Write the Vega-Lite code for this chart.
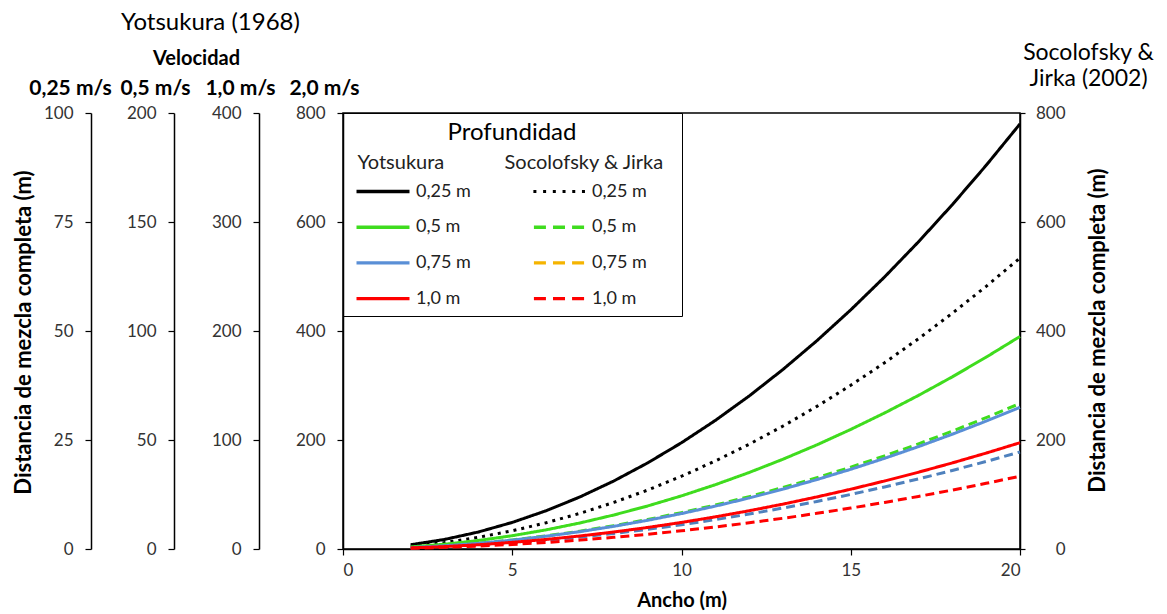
{
  "$schema": "https://vega.github.io/schema/vega-lite/v6.json",
  "autosize": {"type": "none"},
  "width": 677,
  "height": 436,
  "padding": {"left": 343, "top": 113, "right": 147, "bottom": 65},
  "background": "white",
  "config": {
    "view": {"stroke": "#000", "strokeWidth": 1.5},
    "font": "Lato",
    "axis": {"grid": false, "labelFont": "Lato", "labelFontSize": 17, "labelColor": "#333", "titleFont": "Lato", "titleColor": "#000", "domainColor": "#000", "domainWidth": 1.5, "tickColor": "#000", "tickWidth": 1.2},
    "legend": {"labelFont": "Lato", "titleFont": "Lato"}
  },
  "data": {"values": [
    {"W": 2, "Y 0,25": 7.8, "Y 0,5": 3.9, "Y 0,75": 2.6, "Y 1,0": 1.95, "S 0,25": 5.34, "S 0,5": 2.67, "S 0,75": 1.78, "S 1,0": 1.34},
    {"W": 3, "Y 0,25": 17.55, "Y 0,5": 8.78, "Y 0,75": 5.85, "Y 1,0": 4.39, "S 0,25": 12.02, "S 0,5": 6.01, "S 0,75": 4.01, "S 1,0": 3.0},
    {"W": 4, "Y 0,25": 31.2, "Y 0,5": 15.6, "Y 0,75": 10.4, "Y 1,0": 7.8, "S 0,25": 21.36, "S 0,5": 10.68, "S 0,75": 7.12, "S 1,0": 5.34},
    {"W": 5, "Y 0,25": 48.75, "Y 0,5": 24.38, "Y 0,75": 16.25, "Y 1,0": 12.19, "S 0,25": 33.38, "S 0,5": 16.69, "S 0,75": 11.13, "S 1,0": 8.34},
    {"W": 6, "Y 0,25": 70.2, "Y 0,5": 35.1, "Y 0,75": 23.4, "Y 1,0": 17.55, "S 0,25": 48.06, "S 0,5": 24.03, "S 0,75": 16.02, "S 1,0": 12.02},
    {"W": 7, "Y 0,25": 95.55, "Y 0,5": 47.78, "Y 0,75": 31.85, "Y 1,0": 23.89, "S 0,25": 65.42, "S 0,5": 32.71, "S 0,75": 21.81, "S 1,0": 16.35},
    {"W": 8, "Y 0,25": 124.8, "Y 0,5": 62.4, "Y 0,75": 41.6, "Y 1,0": 31.2, "S 0,25": 85.44, "S 0,5": 42.72, "S 0,75": 28.48, "S 1,0": 21.36},
    {"W": 9, "Y 0,25": 157.95, "Y 0,5": 78.98, "Y 0,75": 52.65, "Y 1,0": 39.49, "S 0,25": 108.14, "S 0,5": 54.07, "S 0,75": 36.05, "S 1,0": 27.03},
    {"W": 10, "Y 0,25": 195, "Y 0,5": 97.5, "Y 0,75": 65, "Y 1,0": 48.75, "S 0,25": 133.5, "S 0,5": 66.75, "S 0,75": 44.5, "S 1,0": 33.38},
    {"W": 11, "Y 0,25": 235.95, "Y 0,5": 117.98, "Y 0,75": 78.65, "Y 1,0": 58.99, "S 0,25": 161.54, "S 0,5": 80.77, "S 0,75": 53.85, "S 1,0": 40.38},
    {"W": 12, "Y 0,25": 280.8, "Y 0,5": 140.4, "Y 0,75": 93.6, "Y 1,0": 70.2, "S 0,25": 192.24, "S 0,5": 96.12, "S 0,75": 64.08, "S 1,0": 48.06},
    {"W": 13, "Y 0,25": 329.55, "Y 0,5": 164.78, "Y 0,75": 109.85, "Y 1,0": 82.39, "S 0,25": 225.62, "S 0,5": 112.81, "S 0,75": 75.21, "S 1,0": 56.4},
    {"W": 14, "Y 0,25": 382.2, "Y 0,5": 191.1, "Y 0,75": 127.4, "Y 1,0": 95.55, "S 0,25": 261.66, "S 0,5": 130.83, "S 0,75": 87.22, "S 1,0": 65.42},
    {"W": 15, "Y 0,25": 438.75, "Y 0,5": 219.38, "Y 0,75": 146.25, "Y 1,0": 109.69, "S 0,25": 300.38, "S 0,5": 150.19, "S 0,75": 100.13, "S 1,0": 75.09},
    {"W": 16, "Y 0,25": 499.2, "Y 0,5": 249.6, "Y 0,75": 166.4, "Y 1,0": 124.8, "S 0,25": 341.76, "S 0,5": 170.88, "S 0,75": 113.92, "S 1,0": 85.44},
    {"W": 17, "Y 0,25": 563.55, "Y 0,5": 281.78, "Y 0,75": 187.85, "Y 1,0": 140.89, "S 0,25": 385.82, "S 0,5": 192.91, "S 0,75": 128.61, "S 1,0": 96.45},
    {"W": 18, "Y 0,25": 631.8, "Y 0,5": 315.9, "Y 0,75": 210.6, "Y 1,0": 157.95, "S 0,25": 432.54, "S 0,5": 216.27, "S 0,75": 144.18, "S 1,0": 108.14},
    {"W": 19, "Y 0,25": 703.95, "Y 0,5": 351.98, "Y 0,75": 234.65, "Y 1,0": 175.99, "S 0,25": 481.94, "S 0,5": 240.97, "S 0,75": 160.65, "S 1,0": 120.48},
    {"W": 20, "Y 0,25": 780, "Y 0,5": 390, "Y 0,75": 260, "Y 1,0": 195, "S 0,25": 534, "S 0,5": 267, "S 0,75": 178, "S 1,0": 133.5}
  ]},
  "resolve": {"scale": {"y": "independent"}},
  "layer": [
    {
      "transform": [{"fold": ["Y 0,25", "S 0,25", "Y 0,5", "S 0,5", "Y 0,75", "S 0,75", "Y 1,0", "S 1,0"], "as": ["serie", "L"]}],
      "mark": {"type": "line", "strokeWidth": 3, "strokeCap": "butt"},
      "encoding": {
        "x": {"field": "W", "type": "quantitative", "scale": {"domain": [0, 20], "nice": false},
          "axis": {"values": [0, 5, 10, 15, 20], "tickSize": 6, "labelPadding": 7, "title": "Ancho (m)", "titleFontSize": 20, "titleFontWeight": "bold", "titleBaseline": "middle", "titleY": 51, "titleX": 338.5}},
        "y": {"field": "L", "type": "quantitative", "scale": {"domain": [0, 800], "nice": false},
          "axis": {"orient": "left", "values": [0, 200, 400, 600, 800], "tickSize": 6, "labelPadding": 12, "title": "2,0 m/s", "titleAngle": 0, "titleX": -19, "titleY": -25, "titleAlign": "center", "titleBaseline": "middle", "titleFontWeight": "bold", "titleFontSize": 21}},
        "color": {"field": "serie", "type": "nominal",
          "scale": {"domain": ["Y 0,25", "Y 0,5", "Y 0,75", "Y 1,0", "S 0,25", "S 0,5", "S 0,75", "S 1,0"],
                    "range": ["#000000", "#3fdc1e", "#5a8fd6", "#ff0000", "#000000", "#3fdc1e", "#4f81bd", "#ff0000"]},
          "legend": {
            "orient": "none", "legendX": 0, "legendY": 0,
            "title": "Profundidad", "titleFontSize": 24, "titleFontWeight": "normal", "titleAnchor": "middle", "titleColor": "#000", "titlePadding": 37.5,
            "columns": 2, "columnPadding": 56, "rowPadding": 17.7,
            "symbolType": "M-3,0H3", "symbolSize": 312, "symbolStrokeWidth": 3, "symbolOffset": 23, "labelOffset": 24,
            "labelFontSize": 18, "labelColor": "#222",
            "labelExpr": "slice(datum.value, 2) + ' m'",
            "padding": 8, "strokeColor": "#000", "fillColor": null,
            "encode": {"symbols": {"update": {
              "fill": {"signal": "datum.value == 'S 0,75' ? '#f5b400' : scale('color', datum.value)"},
              "fillOpacity": {"value": 1},
              "strokeWidth": {"value": 0},
              "strokeOpacity": {"value": 0},
              "shape": {"signal": "substring(datum.value, 0, 1) == 'Y' ? 'M-3,-0.19H3V0.19H-3Z' : (datum.value == 'S 0,25' ? 'M-2.9,-0.17H-2.56V0.17H-2.9Z M-1.8,-0.17H-1.46V0.17H-1.8Z M-0.7,-0.17H-0.36V0.17H-0.7Z M0.4,-0.17H0.74V0.17H0.4Z M1.5,-0.17H1.84V0.17H1.5Z M2.6,-0.17H2.94V0.17H2.6Z M13,0' : 'M-2.84,-0.19H-1.48V0.19H-2.84Z M-0.68,-0.19H0.68V0.19H-0.68Z M1.48,-0.19H2.84V0.19H1.48Z M13,0')"}
            }}}
          }},
        "strokeDash": {"field": "serie", "type": "nominal",
          "scale": {"domain": ["Y 0,25", "Y 0,5", "Y 0,75", "Y 1,0", "S 0,25", "S 0,5", "S 0,75", "S 1,0"],
                    "range": [[1, 0], [1, 0], [1, 0], [1, 0], [3, 5], [9, 5], [9, 5], [9, 5]]}},
        "order": {"field": "W", "type": "quantitative"}
      }
    },
    {
      "mark": {"type": "rule", "opacity": 0},
      "encoding": {"y": {"datum": 0, "type": "quantitative", "scale": {"domain": [0, 400], "nice": false},
        "axis": {"orient": "left", "offset": 84, "values": [0, 100, 200, 300, 400], "tickSize": 6, "labelPadding": 12, "title": "1,0 m/s", "titleAngle": 0, "titleX": -19, "titleY": -25, "titleAlign": "center", "titleBaseline": "middle", "titleFontWeight": "bold", "titleFontSize": 21}}}
    },
    {
      "mark": {"type": "rule", "opacity": 0},
      "encoding": {"y": {"datum": 0, "type": "quantitative", "scale": {"domain": [0, 200], "nice": false},
        "axis": {"orient": "left", "offset": 169, "values": [0, 50, 100, 150, 200], "tickSize": 6, "labelPadding": 12, "title": "0,5 m/s", "titleAngle": 0, "titleX": -19, "titleY": -25, "titleAlign": "center", "titleBaseline": "middle", "titleFontWeight": "bold", "titleFontSize": 21}}}
    },
    {
      "mark": {"type": "rule", "opacity": 0},
      "encoding": {"y": {"datum": 0, "type": "quantitative", "scale": {"domain": [0, 100], "nice": false},
        "axis": {"orient": "left", "offset": 252, "values": [0, 25, 50, 75, 100], "tickSize": 6, "labelPadding": 12, "title": "0,25 m/s", "titleAngle": 0, "titleX": -21, "titleY": -25, "titleAlign": "center", "titleBaseline": "middle", "titleFontWeight": "bold", "titleFontSize": 21}}}
    },
    {
      "mark": {"type": "rule", "opacity": 0},
      "encoding": {"y": {"datum": 0, "type": "quantitative", "scale": {"domain": [0, 800], "nice": false},
        "axis": {"orient": "right", "values": [0, 200, 400, 600, 800], "tickSize": 5, "labelPadding": 40, "labelAlign": "right", "title": "Distancia de mezcla completa (m)", "titleAngle": -90, "titleX": 77, "titleY": 217, "titleAlign": "center", "titleBaseline": "middle", "titleFontWeight": "bold", "titleFontSize": 22}}}
    },
    {
      "mark": {"type": "rule", "opacity": 0},
      "encoding": {"y": {"datum": 0, "type": "quantitative", "scale": {"domain": [0, 1]},
        "axis": {"orient": "left", "domain": false, "ticks": false, "labels": false, "title": "Distancia de mezcla completa (m)", "titleAngle": -90, "titleX": -320, "titleY": 219, "titleAlign": "center", "titleBaseline": "middle", "titleFontWeight": "bold", "titleFontSize": 22}}}
    },
    {
      "mark": {"type": "rule", "opacity": 0},
      "encoding": {"y": {"datum": 0, "type": "quantitative", "scale": {"domain": [0, 1]},
        "axis": {"orient": "left", "domain": false, "ticks": false, "labels": false, "title": "Velocidad", "titleAngle": 0, "titleX": -147, "titleY": -55, "titleAlign": "center", "titleBaseline": "middle", "titleFontWeight": "bold", "titleFontSize": 20}}}
    },
    {
      "mark": {"type": "rule", "opacity": 0},
      "encoding": {"y": {"datum": 0, "type": "quantitative", "scale": {"domain": [0, 1]},
        "axis": {"orient": "left", "domain": false, "ticks": false, "labels": false, "title": "Yotsukura (1968)", "titleAngle": 0, "titleX": -133, "titleY": -91, "titleAlign": "center", "titleBaseline": "middle", "titleFontWeight": "normal", "titleFontSize": 24}}}
    },
    {
      "mark": {"type": "rule", "opacity": 0},
      "encoding": {"y": {"datum": 0, "type": "quantitative", "scale": {"domain": [0, 1]},
        "axis": {"orient": "right", "domain": false, "ticks": false, "labels": false, "title": ["Socolofsky &", "Jirka (2002)"], "titleAngle": 0, "titleX": 68, "titleY": -61, "titleAlign": "center", "titleBaseline": "middle", "titleLineHeight": 26, "titleFontWeight": "normal", "titleFontSize": 23}}}
    },
    {
      "mark": {"type": "rule", "opacity": 0},
      "encoding": {"y": {"datum": 0, "type": "quantitative", "scale": {"domain": [0, 1]},
        "axis": {"orient": "left", "domain": false, "ticks": false, "labels": false, "title": "Yotsukura", "titleAngle": 0, "titleX": 14, "titleY": 49, "titleAlign": "left", "titleBaseline": "middle", "titleFontWeight": "normal", "titleFontSize": 20, "titleColor": "#222"}}}
    },
    {
      "mark": {"type": "rule", "opacity": 0},
      "encoding": {"y": {"datum": 0, "type": "quantitative", "scale": {"domain": [0, 1]},
        "axis": {"orient": "left", "domain": false, "ticks": false, "labels": false, "title": "Socolofsky & Jirka", "titleAngle": 0, "titleX": 161, "titleY": 49, "titleAlign": "left", "titleBaseline": "middle", "titleFontWeight": "normal", "titleFontSize": 20, "titleColor": "#222"}}}
    }
  ]
}
